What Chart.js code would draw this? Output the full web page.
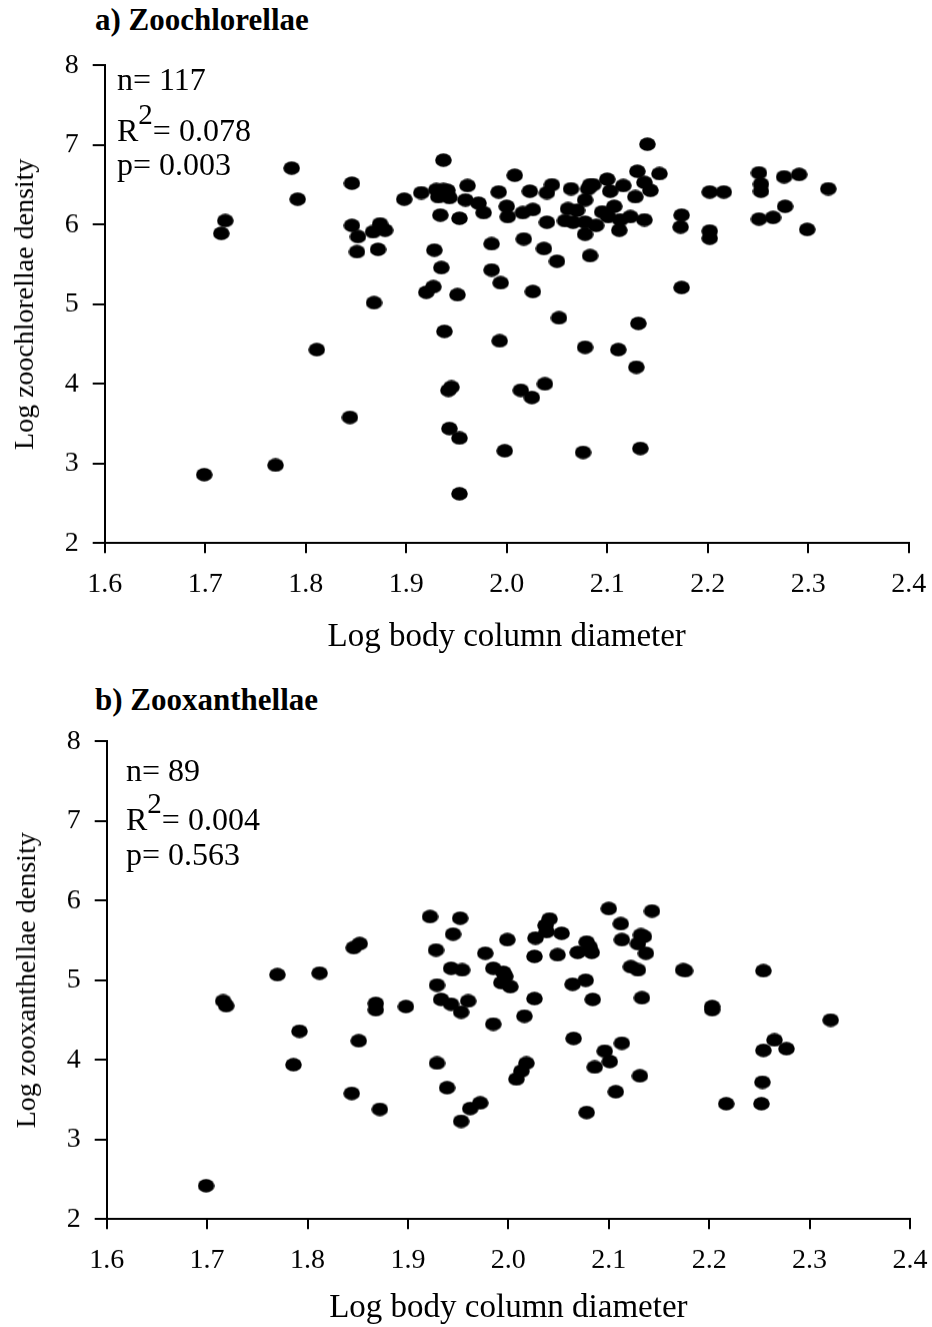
<!DOCTYPE html>
<html>
<head>
<meta charset="utf-8">
<script src="https://cdn.jsdelivr.net/npm/chart.js@4.4.1/dist/chart.umd.min.js"></script>
<style>
  body { margin: 0; background: #fff; width: 932px; height: 1327px; position: relative; overflow: hidden;
         font-family: 'Liberation Serif', 'Times New Roman', serif; color: #000; }
  .panel { position: absolute; }
  .title { position: absolute; font-weight: bold; font-size: 31px; white-space: nowrap; line-height: 1; }
  .stat { position: absolute; font-size: 32px; white-space: nowrap; line-height: 1; }
  .stat .sup { font-size: 29px; position: relative; top: -17px; }
</style>
</head>
<body>
<div class="title" style="left:95px; top:4px;">a) Zoochlorellae</div>
<div class="panel" style="left:0; top:40px; width:932px; height:612.5px;"><canvas id="chartA"></canvas></div>
<div id="statsA"></div>

<div class="title" style="left:95px; top:684px;">b) Zooxanthellae</div>
<div class="panel" style="left:2px; top:716px; width:930px; height:607.5px;"><canvas id="chartB"></canvas></div>
<div id="statsB"></div>

<script>
// ── Data ───────────────────────────────────────────────────

const xTicks = [1.6, 1.7, 1.8, 1.9, 2.0, 2.1, 2.2, 2.3, 2.4];
const yTicks = [2, 3, 4, 5, 6, 7, 8];

// a) Zoochlorellae
const chlX = [
  1.699, 1.720, 1.716, 1.770, 1.786, 1.792, 1.811, 1.844, 1.846, 1.846,
  1.852, 1.851, 1.867, 1.874, 1.879, 1.872, 1.868, 1.898, 1.915, 1.930,
  1.937, 1.932, 1.943, 1.937, 1.934, 1.953, 1.961, 1.959, 1.972, 1.977,
  1.992, 1.928, 1.935, 1.920, 1.927, 1.951, 1.985, 1.985, 1.994, 1.938,
  1.993, 1.945, 1.942, 1.943, 1.953, 1.998, 1.953, 2.008, 2.000, 2.001,
  2.016, 2.026, 2.023, 2.045, 2.040, 2.040, 2.064, 2.061, 2.070, 2.078,
  2.058, 2.066, 2.078, 2.078, 2.089, 2.095, 2.107, 2.101, 2.113, 2.112,
  2.123, 2.128, 2.137, 2.086, 2.081, 2.100, 2.103, 2.116, 2.130, 2.137,
  2.143, 2.152, 2.140, 2.017, 2.037, 2.050, 2.083, 2.026, 2.052, 2.131,
  2.078, 2.111, 2.129, 2.038, 2.014, 2.025, 2.076, 2.133, 2.174, 2.173,
  2.174, 2.202, 2.216, 2.202, 2.202, 2.251, 2.253, 2.253, 2.251, 2.265,
  2.276, 2.291, 2.277, 2.299, 2.320, 1.941, 2.083
];
const chlY = [
  2.86, 6.05, 5.89, 2.98, 6.71, 6.32, 4.43, 3.58, 6.52, 5.99,
  5.85, 5.66, 5.91, 6.01, 5.93, 5.69, 5.02, 6.32, 6.40, 6.44,
  6.44, 6.35, 6.34, 6.81, 6.12, 6.08, 6.49, 6.31, 6.27, 6.15,
  6.41, 5.68, 5.46, 5.15, 5.22, 5.12, 5.76, 5.43, 5.27, 4.66,
  4.54, 3.96, 3.92, 3.44, 3.32, 3.16, 2.62, 6.62, 6.23, 6.10,
  6.15, 6.19, 6.42, 6.50, 6.40, 6.03, 6.45, 6.20, 6.18, 6.31,
  6.05, 6.03, 6.03, 5.88, 5.99, 6.16, 6.23, 6.10, 6.06, 5.93,
  6.10, 6.35, 6.06, 6.50, 6.45, 6.57, 6.42, 6.49, 6.67, 6.53,
  6.43, 6.64, 7.01, 5.82, 5.70, 5.54, 5.61, 5.16, 4.83, 4.76,
  4.46, 4.43, 4.21, 4.00, 3.92, 3.83, 3.14, 3.19, 6.12, 5.97,
  5.21, 6.41, 6.41, 5.92, 5.83, 6.65, 6.51, 6.42, 6.07, 6.09,
  6.60, 6.63, 6.23, 5.94, 6.45, 6.43, 6.50
];
const statsA = ['117', '0.078', '0.003'];

// b) Zooxanthellae
const xanX = [
  1.699, 1.716, 1.719, 1.770, 1.786, 1.792, 1.812, 1.844, 1.846, 1.852,
  1.851, 1.868, 1.868, 1.872, 1.898, 1.922, 1.928, 1.929, 1.929, 1.933,
  1.939, 1.943, 1.943, 1.945, 1.952, 1.953, 1.954, 1.953, 1.960, 1.962,
  1.972, 1.977, 1.985, 1.985, 1.993, 1.995, 1.999, 2.002, 2.008, 2.013,
  2.016, 2.018, 2.026, 2.026, 2.027, 2.037, 2.038, 2.041, 2.049, 2.053,
  2.064, 2.065, 2.069, 2.077, 2.078, 2.078, 2.083, 2.084, 2.086, 2.096,
  2.100, 2.101, 2.107, 2.112, 2.113, 2.113, 2.122, 2.129, 2.129, 2.131,
  2.132, 2.133, 2.137, 2.143, 2.174, 2.203, 2.203, 2.217, 2.252, 2.253,
  2.254, 2.254, 2.265, 2.277, 2.321, 2.176, 2.135, 2.081, 1.997
];
const xanY = [
  2.42, 4.74, 4.68, 5.07, 3.94, 4.36, 5.09, 3.58, 5.41, 5.46,
  4.24, 4.71, 4.63, 3.38, 4.67, 5.80, 5.38, 4.94, 3.96, 4.76,
  3.65, 4.70, 5.15, 5.58, 5.78, 4.60, 5.13, 3.23, 4.74, 3.39,
  3.46, 5.34, 5.15, 4.45, 4.97, 5.10, 5.51, 4.92, 3.76, 3.86,
  4.55, 3.96, 4.77, 5.30, 5.53, 5.69, 5.61, 5.77, 5.32, 5.59,
  4.95, 4.27, 5.35, 5.00, 5.48, 3.34, 5.35, 4.76, 3.91, 4.11,
  5.90, 3.98, 3.60, 5.71, 5.51, 4.21, 5.17, 5.46, 5.13, 3.80,
  5.57, 4.78, 5.34, 5.87, 5.13, 4.67, 4.63, 3.45, 3.45, 3.72,
  4.12, 5.12, 4.25, 4.14, 4.50, 5.12, 5.55, 5.42, 5.05
];
const statsB = ['89', '0.004', '0.563'];

// ── Helpers ────────────────────────────────────────────────

const SERIF = "'Liberation Serif', 'Times New Roman', serif";

// slightly wide black ellipse, like the original markers
function makeDot() {
    const c = document.createElement('canvas');
    c.width = 17;
    c.height = 14;
    const g = c.getContext('2d');
    g.fillStyle = '#000';
    g.beginPath();
    g.ellipse(8.5, 7, 8.3, 6.7, 0, 0, Math.PI * 2);
    g.fill();
    return c;
}
const dot = makeDot();

// tops are chosen so the baselines land where the original ones are
function writeStats(id, vals, left, tops) {
    const box = document.getElementById(id);
    const lines = [
        `n= ${vals[0]}`,
        `R<span class="sup">2</span>= ${vals[1]}`,
        `p= ${vals[2]}`
    ];
    lines.forEach((html, i) => {
        const d = document.createElement('div');
        d.className = 'stat';
        d.style.left = left + 'px';
        d.style.top = tops[i] + 'px';
        d.innerHTML = html;
        box.appendChild(d);
    });
}

function makeChart(canvasId, xs, ys, yTitle, padRight, xAxisH) {
    const points = xs.map((x, i) => ({ x, y: ys[i] }));
    return new Chart(document.getElementById(canvasId), {
        type: 'scatter',
        data: {
            datasets: [{
                data: points,
                pointStyle: dot,
                pointRadius: 8,
                pointHoverRadius: 8,
                backgroundColor: '#000',
                borderColor: '#000'
            }]
        },
        options: {
            responsive: true,
            maintainAspectRatio: false,
            animation: false,
            events: [],
            layout: { padding: { top: 25.3, right: padRight, bottom: 0, left: 0 } },
            plugins: { legend: { display: false }, tooltip: { enabled: false } },
            scales: {
                x: {
                    type: 'linear',
                    min: 1.6,
                    max: 2.4,
                    afterBuildTicks: s => { s.ticks = xTicks.map(v => ({ value: v })); },
                    // fixed axis box, and no extra room for the end labels
                    afterFit: s => { s.height = xAxisH; s.paddingLeft = 0; s.paddingRight = 0; },
                    grid: { drawOnChartArea: false, drawTicks: true, tickLength: 10, color: '#000', lineWidth: 2 },
                    border: { display: true, color: '#000', width: 2 },
                    ticks: {
                        autoSkip: false,
                        maxRotation: 0,
                        padding: 15,
                        color: '#000',
                        font: { family: SERIF, size: 28 },
                        callback: v => v.toFixed(1)
                    },
                    title: {
                        display: true,
                        text: 'Log body column diameter',
                        color: '#000',
                        font: { family: SERIF, size: 33, lineHeight: 1 },
                        padding: { top: 0, bottom: 0 }
                    }
                },
                y: {
                    min: 2,
                    max: 8,
                    afterBuildTicks: s => { s.ticks = yTicks.map(v => ({ value: v })); },
                    afterFit: s => { s.width = 104.7; s.paddingTop = 0; s.paddingBottom = 0; },
                    grid: { drawOnChartArea: false, drawTicks: true, tickLength: 12, color: '#000', lineWidth: 2 },
                    border: { display: true, color: '#000', width: 2 },
                    ticks: {
                        padding: 14,
                        color: '#000',
                        font: { family: SERIF, size: 28 },
                        callback: v => String(v)
                    },
                    title: {
                        display: true,
                        text: yTitle,
                        color: '#000',
                        font: { family: SERIF, size: 28, lineHeight: 1 },
                        padding: { top: 12, bottom: 0 }
                    }
                }
            }
        }
    });
}

makeChart('chartA', chlX, chlY, 'Log zoochlorellae density', 23.3, 110.2);
makeChart('chartB', xanX, xanY, 'Log zooxanthellae density', 22, 105.2);

writeStats('statsA', statsA, 117, [63, 114, 148]);
writeStats('statsB', statsB, 126, [753.5, 803, 837.5]);
</script>
</body>
</html>
